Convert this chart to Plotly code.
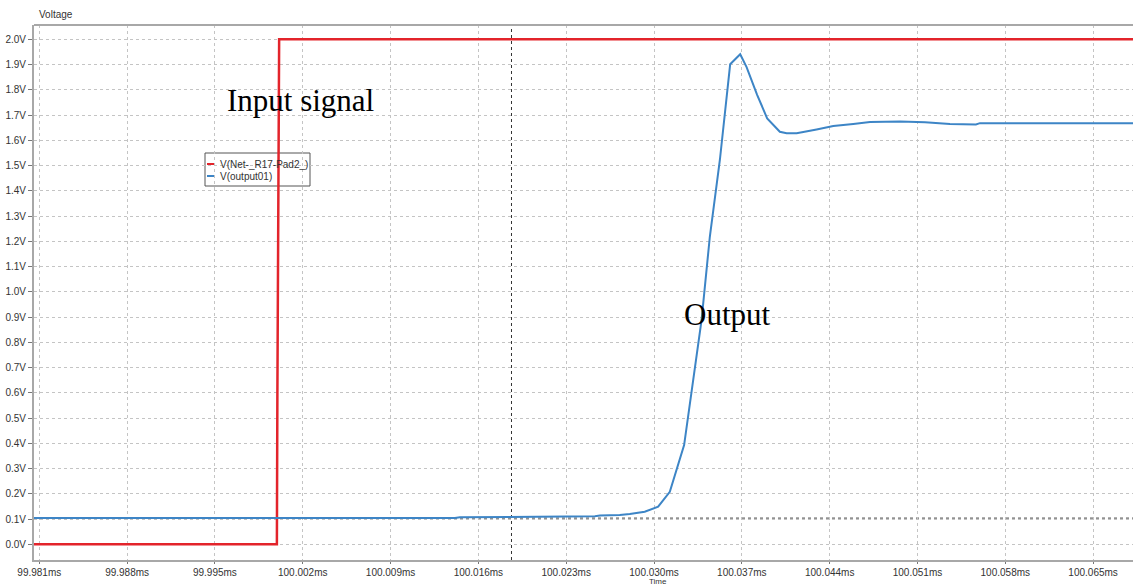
import plotly.graph_objects as go

# --- Transient simulation traces (time in ms, voltage in V) ---
input_time = [99.98058, 99.99994, 99.99998, 100.00012, 100.06818]
input_volt = [0.0, 0.0, 0.6, 2.0, 2.0]

output_time = [
    99.98058, 100.01413, 100.01453, 100.01915, 100.01947, 100.02529, 100.02569,
    100.02727, 100.02807, 100.02926, 100.03033, 100.03126, 100.03240, 100.03326,
    100.03379, 100.03445, 100.03525, 100.03607, 100.03687, 100.03738, 100.03822,
    100.03902, 100.04003, 100.04057, 100.04137, 100.04296, 100.04429, 100.04588,
    100.04722, 100.04961, 100.05160, 100.05359, 100.05566, 100.05598, 100.06818,
]
output_volt = [
    0.104, 0.104, 0.107, 0.108, 0.110, 0.111, 0.114,
    0.116, 0.120, 0.129, 0.149, 0.208, 0.393, 0.690,
    0.888, 1.218, 1.522, 1.901, 1.941, 1.890, 1.780,
    1.687, 1.634, 1.628, 1.628, 1.643, 1.657, 1.665,
    1.672, 1.674, 1.671, 1.665, 1.663, 1.668, 1.668,
]

# Axis ticks
x_tick_vals = [99.981 + 0.007 * k for k in range(13)]
x_tick_text = ["99.981ms", "99.988ms", "99.995ms", "100.002ms", "100.009ms",
               "100.016ms", "100.023ms", "100.030ms", "100.037ms", "100.044ms",
               "100.051ms", "100.058ms", "100.065ms"]
y_tick_vals = [round(0.1 * k, 1) for k in range(21)]
y_tick_text = [f"{v:.1f}V" for v in y_tick_vals]

# Cursor positions
cursor_time = 100.01864
cursor_volt = 0.104

x_range = [99.98058, 100.06818]
y_range = [-0.062, 2.0566]

RED = "#e3242b"
BLUE = "#3d85c6"
GRID = "#c4c4c4"
FRAME = "#a8a8a8"

fig = go.Figure()
fig.add_trace(go.Scatter(x=input_time, y=input_volt, mode="lines",
                         line=dict(color=RED, width=2.5), name="V(Net-_R17-Pad2_)",
                         showlegend=False))
fig.add_trace(go.Scatter(x=output_time, y=output_volt, mode="lines",
                         line=dict(color=BLUE, width=2), name="V(output01)",
                         showlegend=False))

# Plot-area pixel geometry helpers (for paper-referenced overlays)
L, R, T, B = 34, 1133, 25, 560


def px(x):
    return (x - L) / (R - L)


def py(y):
    return (B - y) / (B - T)


shapes = [
    # top frame line
    dict(type="line", xref="paper", yref="paper", x0=0, x1=1, y0=1, y1=1,
         line=dict(color=FRAME, width=2), layer="above"),
    # cursors
    dict(type="line", xref="x", yref="paper", x0=cursor_time, x1=cursor_time, y0=0, y1=1,
         line=dict(color="#333333", width=1, dash="dot"), layer="between"),
    dict(type="line", xref="paper", yref="y", x0=0, x1=1, y0=cursor_volt, y1=cursor_volt,
         line=dict(color="#444444", width=1, dash="dot"), layer="between"),
    # legend box
    dict(type="rect", xref="paper", yref="paper", x0=px(205), x1=px(310), y0=py(186), y1=py(153),
         fillcolor="white", line=dict(color="#555555", width=1), layer="between"),
    dict(type="line", xref="paper", yref="paper", x0=px(207), x1=px(214), y0=py(164), y1=py(164),
         line=dict(color=RED, width=2), layer="above"),
    dict(type="line", xref="paper", yref="paper", x0=px(207), x1=px(214), y0=py(176), y1=py(176),
         line=dict(color=BLUE, width=2), layer="above"),
]

label_font = dict(family="Liberation Sans, Arial, sans-serif", size=10, color="#333333")
serif = dict(family="Liberation Serif, Times New Roman, serif", size=31, color="black")

annotations = [
    dict(xref="paper", yref="paper", x=px(218), y=py(164), text="V(Net-_R17-Pad2_)",
         showarrow=False, xanchor="left", yanchor="middle", font=label_font),
    dict(xref="paper", yref="paper", x=px(218), y=py(176), text="V(output01)",
         showarrow=False, xanchor="left", yanchor="middle", font=label_font),
    dict(xref="paper", yref="paper", x=px(300), y=py(100), text="Input signal",
         showarrow=False, xanchor="center", yanchor="middle", font=serif),
    dict(xref="paper", yref="paper", x=px(727), y=py(314), text="Output",
         showarrow=False, xanchor="center", yanchor="middle", font=serif),
    dict(xref="paper", yref="paper", x=px(37), y=py(15), text="Voltage",
         showarrow=False, xanchor="left", yanchor="middle",
         font=dict(family="Liberation Sans, Arial, sans-serif", size=10, color="#333333")),
    dict(xref="paper", yref="paper", x=px(658), y=py(581.5), text="Time",
         showarrow=False, xanchor="center", yanchor="middle",
         font=dict(family="Liberation Sans, Arial, sans-serif", size=8, color="#333333")),
]

fig.update_layout(
    width=1133, height=587,
    margin=dict(l=L, r=1133 - R, t=T, b=587 - B),
    paper_bgcolor="white", plot_bgcolor="white",
    showlegend=False,
    shapes=shapes, annotations=annotations,
    font=label_font,
)
fig.update_xaxes(
    range=x_range, tickmode="array", tickvals=x_tick_vals, ticktext=x_tick_text,
    showgrid=True, gridcolor=GRID, griddash="dot", gridwidth=1,
    showline=True, linecolor=FRAME, linewidth=2,
    ticks="outside", ticklen=2, tickcolor="#777777", tickfont=label_font,
    zeroline=False,
)
fig.update_yaxes(
    range=y_range, tickmode="array", tickvals=y_tick_vals, ticktext=y_tick_text,
    showgrid=True, gridcolor=GRID, griddash="dot", gridwidth=1,
    showline=True, linecolor=FRAME, linewidth=2,
    ticks="outside", ticklen=4, tickcolor="#777777", tickfont=label_font,
    zeroline=False,
)

fig.write_html("out.html")
